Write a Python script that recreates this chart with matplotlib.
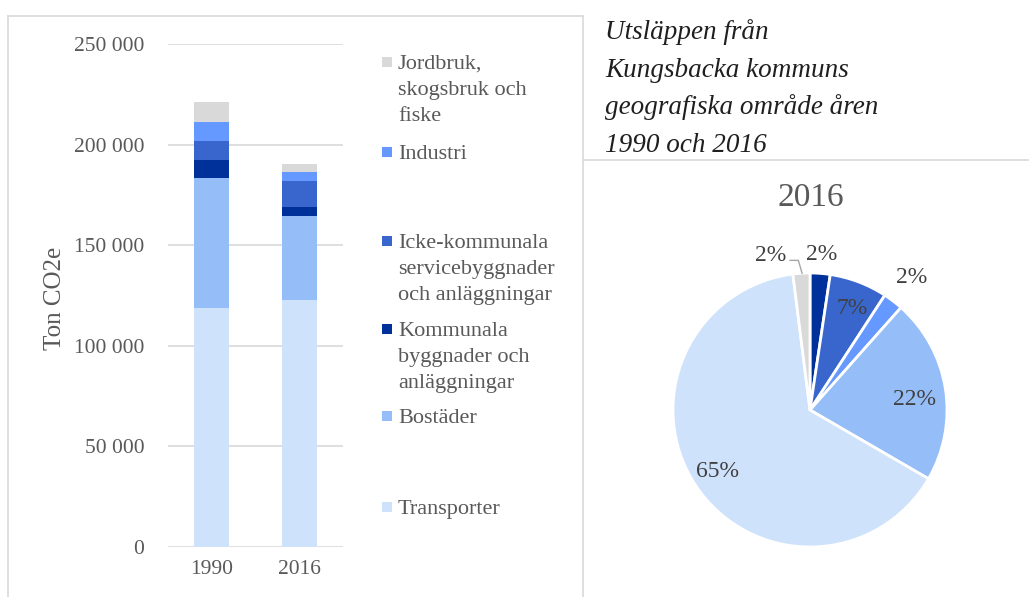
import matplotlib
matplotlib.use("Agg")
import matplotlib.pyplot as plt
from matplotlib.lines import Line2D
from matplotlib.patches import Rectangle
import numpy as np

plt.rcParams['font.family'] = ['Liberation Serif', 'DejaVu Serif']

# ---- data ----
years = ["1990", "2016"]
categories = ["Transporter", "Bostäder", "Kommunala byggnader och anläggningar",
              "Icke-kommunala servicebyggnader och anläggningar", "Industri",
              "Jordbruk, skogsbruk och fiske"]
legend_labels = ["Transporter", "Bostäder", "Kommunala\nbyggnader och\nanläggningar",
                 "Icke-kommunala\nservicebyggnader\noch anläggningar", "Industri",
                 "Jordbruk,\nskogsbruk och\nfiske"]
values_1990 = [119000, 64400, 9000, 9500, 9300, 10200]
values_2016 = [123000, 41500, 4500, 13000, 4500, 3800]
colors = ["#CFE2FB", "#95BDF7", "#00309A", "#3966CC", "#6699FF", "#D9D9D9"]
yticks = [0, 50000, 100000, 150000, 200000, 250000]
ytick_labels = ["0", "50 000", "100 000", "150 000", "200 000", "250 000"]
pie_order = [2, 3, 4, 1, 0, 5]  # clockwise from top
title_lines = ["Utsläppen från", "Kungsbacka kommuns", "geografiska område åren", "1990 och 2016"]

W, H = 1029, 597
fig = plt.figure(figsize=(W / 100, H / 100), dpi=100)

def fx(px):
    return px / W

def fy(py):
    return 1 - py / H

grey_txt = "#595959"

# ---- panel borders ----
border = "#D9D9D9"
fig.add_artist(Line2D([fx(8), fx(8)], [fy(16), 0], color=border, lw=1.2))
fig.add_artist(Line2D([fx(8), fx(583)], [fy(16), fy(16)], color=border, lw=1.2))
fig.add_artist(Line2D([fx(583), fx(583)], [fy(16), 0], color=border, lw=1.2))
fig.add_artist(Line2D([fx(583), 1], [fy(160), fy(160)], color=border, lw=1.2))

# ---- bar chart ----
ax = fig.add_axes([fx(168), fy(547), fx(343) - fx(168), fy(44) - fy(547)])
x = np.arange(len(years))
bottom = np.zeros(len(years))
for i, cat in enumerate(categories):
    vals = np.array([values_1990[i], values_2016[i]], dtype=float)
    ax.bar(x, vals, width=0.4, bottom=bottom, color=colors[i], label=cat, zorder=3)
    bottom += vals
ax.set_xlim(-0.5, 1.5)
ax.set_ylim(0, 250000)
ax.set_yticks(yticks)
ax.set_yticklabels(ytick_labels)
ax.set_xticks(x)
ax.set_xticklabels(years)
ax.tick_params(axis='both', length=0, labelsize=15.5, labelcolor=grey_txt)
ax.tick_params(axis='y', pad=17)
ax.tick_params(axis='x', pad=9)
ax.grid(axis='y', color="#D9D9D9", lw=1.2, zorder=0)
for s in ax.spines.values():
    s.set_visible(False)
fig.text(fx(55), fy(298), "Ton CO2e", fontsize=18, color=grey_txt, rotation=90,
         ha='center', va='center')

# ---- legend (manual) ----
legend_y = {5: 62, 4: 152, 3: 241, 2: 329, 1: 416, 0: 507}
for i, lab in enumerate(legend_labels):
    y = legend_y[i]
    fig.add_artist(Rectangle((fx(382), fy(y + 5)), fx(10), 10 / H,
                             facecolor=colors[i], edgecolor='none'))
    for li, line in enumerate(lab.split("\n")):
        fig.text(fx(398), fy(y + 26 * li), line, fontsize=16, color=grey_txt,
                 va='center_baseline', ha='left')

# ---- title ----
for line, yb in zip(title_lines, [39, 77, 114, 152]):
    fig.text(fx(605), fy(yb), line, fontsize=19.5, style='italic', color="#1F1F1F",
             va='baseline', ha='left')

# ---- pie ----
pax = fig.add_axes([fx(673), fy(547), fx(947) - fx(673), fy(273) - fy(547)])
pie_vals = [values_2016[k] for k in pie_order]
pie_cols = [colors[k] for k in pie_order]
wedges, _ = pax.pie(pie_vals, colors=pie_cols, startangle=90, counterclock=False,
                    wedgeprops=dict(edgecolor='white', linewidth=2))
pax.set_xlim(-1, 1)
pax.set_ylim(-1, 1)
pax.set_aspect('equal')
total = sum(pie_vals)
# label radius and angle offset per slice (in pie order)
label_r = [1.14, 0.80, 1.22, 0.77, 0.81, 1.17]
label_dt = [0, -2, 0, -3.5, 0, 0]
for j, w in enumerate(wedges):
    ang = np.deg2rad((w.theta1 + w.theta2) / 2 + label_dt[j])
    pct = f"{pie_vals[j] / total * 100:.0f}%"
    k = pie_order[j]
    if k == 5:
        a2 = ang + np.deg2rad(10)
        tx, ty = label_r[j] * np.cos(a2) - 0.01, label_r[j] * np.sin(a2) - 0.01
        pax.text(tx, ty, pct, ha='center', va='center', fontsize=17, color="#404040")
        wx, wy = np.cos(ang), np.sin(ang)
        pax.add_line(Line2D([tx + 0.14, tx + 0.20, wx + 0.005],
                            [ty - 0.035, ty - 0.035, wy],
                            color="#A6A6A6", lw=1, clip_on=False))
    else:
        tx, ty = label_r[j] * np.cos(ang), label_r[j] * np.sin(ang)
        pax.text(tx, ty, pct, ha='center', va='center', fontsize=17, color="#404040")

fig.text(fx(811), fy(198), "2016", fontsize=24, color=grey_txt, ha='center', va='center')

fig.savefig("out.png", dpi=100)
